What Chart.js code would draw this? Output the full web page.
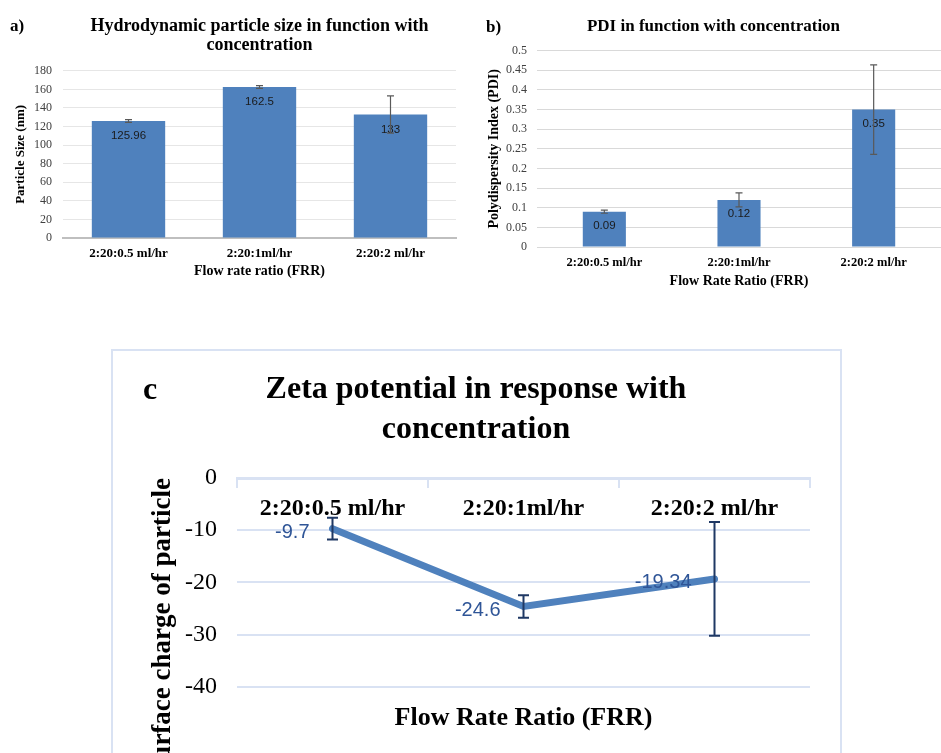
<!DOCTYPE html>
<html>
<head>
<meta charset="utf-8">
<script src="https://cdn.jsdelivr.net/npm/chart.js@4.4.1/dist/chart.umd.min.js"></script>
<style>
  body { margin: 0; width: 941px; height: 753px; overflow: hidden; background: #fff; position: relative; }
  canvas { position: absolute; }
  .tag { position: absolute; font-family: "Liberation Serif", serif; font-weight: bold; color: #000; line-height: 1; }
  #frameC { position: absolute; left: 111px; top: 349px; width: 727px; height: 440px; border: 2px solid #d9e2f3; }
</style>
</head>
<body>
<canvas id="chartA" width="470" height="290" style="left:0;top:0"></canvas>
<canvas id="chartB" width="471" height="290" style="left:470px;top:0"></canvas>
<div id="frameC"></div>
<canvas id="chartC" width="728" height="410" style="left:112px;top:350px"></canvas>
<div class="tag" style="left:10px;top:17px;font-size:17px">a)</div>
<div class="tag" style="left:486px;top:18px;font-size:17px">b)</div>
<div class="tag" style="left:143px;top:372px;font-size:32px">c</div>
<script>
// categories shared by all three panels
const frrLabels = ['2:20:0.5 ml/hr', '2:20:1ml/hr', '2:20:2 ml/hr'];

// a) hydrodynamic size (nm) with error
const sizeValues = [125.96, 162.5, 133];
const sizeErrors = [1.5, 1.5, 20];

// b) PDI with error
const pdiValues = [0.09, 0.12, 0.35];
const pdiErrors = [0.004, 0.018, 0.114];

// c) zeta potential with error
const zetaValues = [-9.7, -24.6, -19.34];
const zetaErrors = [2.1, 2.15, 10.9];

const serif = 'Liberation Serif';

// draws vertical error bars with caps on dataset 0
const errorBarPlugin = {
  id: 'errorBars',
  afterDatasetsDraw(chart, args, opts) {
    const meta = chart.getDatasetMeta(0);
    const values = chart.data.datasets[0].data;
    const yScale = chart.scales.y;
    const ctx = chart.ctx;
    ctx.save();
    ctx.strokeStyle = opts.color;
    ctx.lineWidth = opts.width;
    meta.data.forEach((el, i) => {
      const top = yScale.getPixelForValue(values[i] + opts.errors[i]);
      const bot = yScale.getPixelForValue(values[i] - opts.errors[i]);
      ctx.beginPath();
      ctx.moveTo(el.x, top);
      ctx.lineTo(el.x, bot);
      ctx.moveTo(el.x - opts.cap, top);
      ctx.lineTo(el.x + opts.cap, top);
      ctx.moveTo(el.x - opts.cap, bot);
      ctx.lineTo(el.x + opts.cap, bot);
      ctx.stroke();
    });
    ctx.restore();
  }
};

// writes the value next to each bar / point
const valueLabelPlugin = {
  id: 'valueLabels',
  afterDatasetsDraw(chart, args, opts) {
    const meta = chart.getDatasetMeta(0);
    const values = chart.data.datasets[0].data;
    const ctx = chart.ctx;
    ctx.save();
    ctx.fillStyle = opts.color;
    ctx.font = opts.font;
    ctx.textAlign = opts.align;
    ctx.textBaseline = 'middle';
    meta.data.forEach((el, i) => {
      ctx.fillText(String(values[i]), el.x + opts.dx, el.y + opts.dy);
    });
    ctx.restore();
  }
};

// ---- a) bar chart ----
new Chart(document.getElementById('chartA'), {
  type: 'bar',
  data: {
    labels: frrLabels,
    datasets: [{
      data: sizeValues,
      backgroundColor: '#4f81bd',
      barPercentage: 0.56,
      categoryPercentage: 1
    }]
  },
  plugins: [valueLabelPlugin, errorBarPlugin],
  options: {
    responsive: false,
    animation: false,
    layout: { padding: { left: 8, right: 14, top: 0, bottom: 10 } },
    plugins: {
      legend: { display: false },
      tooltip: { enabled: false },
      title: {
        display: true,
        fullSize: false,
        text: ['Hydrodynamic particle size in function with', 'concentration'],
        color: '#000',
        font: { family: serif, size: 18, weight: 'bold', lineHeight: 1.05 },
        padding: { top: 17, bottom: 16 }
      },
      errorBars: { errors: sizeErrors, color: '#595959', width: 1.2, cap: 3.5 },
      valueLabels: { color: '#1a1a1a', font: '11.5px "Liberation Sans"', align: 'center', dx: 0, dy: 15 }
    },
    scales: {
      x: {
        grid: { display: false, drawTicks: false },
        border: { color: '#bfbfbf', width: 2 },
        ticks: { color: '#000', font: { family: serif, size: 13, weight: 'bold' }, padding: 8 },
        title: { display: true, text: 'Flow rate ratio (FRR)', color: '#000', font: { family: serif, size: 14, weight: 'bold' }, padding: { top: 4, bottom: 0 } },
        afterFit(scale) { scale.height = 42; }
      },
      y: {
        min: 0,
        max: 180,
        ticks: { stepSize: 20, autoSkip: false, color: '#404040', font: { family: serif, size: 12 }, padding: 11 },
        grid: { color: '#e6e6e6', drawTicks: false },
        border: { display: false },
        title: { display: true, text: 'Particle Size (nm)', color: '#000', font: { family: serif, size: 13, weight: 'bold' }, padding: { top: 5, bottom: 0 } },
        afterFit(scale) { scale.width = 55; }
      }
    }
  }
});

// ---- b) bar chart ----
new Chart(document.getElementById('chartB'), {
  type: 'bar',
  data: {
    labels: frrLabels,
    datasets: [{
      data: pdiValues,
      backgroundColor: '#4f81bd',
      barPercentage: 0.32,
      categoryPercentage: 1
    }]
  },
  plugins: [valueLabelPlugin, errorBarPlugin],
  options: {
    responsive: false,
    animation: false,
    layout: { padding: { left: 16, right: 0, top: 0, bottom: 0 } },
    plugins: {
      legend: { display: false },
      tooltip: { enabled: false },
      title: {
        display: true,
        text: 'PDI in function with concentration',
        color: '#000',
        font: { family: serif, size: 17, weight: 'bold', lineHeight: 1.1 },
        padding: { top: 17, bottom: 15 }
      },
      errorBars: { errors: pdiErrors, color: '#595959', width: 1.2, cap: 3.5 },
      valueLabels: { color: '#1a1a1a', font: '11.5px "Liberation Sans"', align: 'center', dx: 0, dy: 14 }
    },
    scales: {
      x: {
        grid: { display: false, drawTicks: false },
        border: { color: '#d9d9d9', width: 1 },
        ticks: { color: '#000', font: { family: serif, size: 12.5, weight: 'bold' }, padding: 8 },
        title: { display: true, text: 'Flow Rate Ratio (FRR)', color: '#000', font: { family: serif, size: 14, weight: 'bold' }, padding: { top: 4, bottom: 0 } },
        afterFit(scale) { scale.height = 43; }
      },
      y: {
        min: 0,
        max: 0.5,
        ticks: {
          stepSize: 0.05,
          autoSkip: false,
          color: '#404040',
          font: { family: serif, size: 12 },
          padding: 10,
          callback: v => String(Number(v.toFixed(2)))
        },
        grid: { color: '#d9d9d9', drawTicks: false },
        border: { display: false },
        title: { display: true, text: 'Polydispersity Index (PDI)', color: '#000', font: { family: serif, size: 14, weight: 'bold' }, padding: { top: 0, bottom: 0 } },
        afterFit(scale) { scale.width = 51; }
      }
    }
  }
});

// ---- c) line chart ----
new Chart(document.getElementById('chartC'), {
  type: 'line',
  data: {
    labels: frrLabels,
    datasets: [{
      data: zetaValues,
      borderColor: '#4f81bd',
      backgroundColor: '#4f81bd',
      borderWidth: 7,
      borderCapStyle: 'round',
      pointRadius: 3,
      pointBorderWidth: 0,
      tension: 0
    }]
  },
  plugins: [valueLabelPlugin, errorBarPlugin],
  options: {
    responsive: false,
    animation: false,
    layout: { padding: { left: 30, right: 30, top: 0, bottom: 26 } },
    plugins: {
      legend: { display: false },
      tooltip: { enabled: false },
      title: {
        display: true,
        text: ['Zeta potential in response with', 'concentration'],
        color: '#000',
        font: { family: serif, size: 32, weight: 'bold', lineHeight: 1.25 },
        padding: { top: 20, bottom: 28 }
      },
      errorBars: { errors: zetaErrors, color: '#1f3864', width: 2, cap: 5.5 },
      valueLabels: { color: '#2f5597', font: '20px "Liberation Sans"', align: 'right', dx: -23, dy: 4 }
    },
    scales: {
      x: {
        position: { y: 0 },
        offset: true,
        grid: { display: true, drawOnChartArea: false, drawTicks: true, tickLength: 8, offset: true, color: '#d9e2f3', lineWidth: 2 },
        border: { color: '#d9e2f3', width: 3 },
        ticks: { color: '#000', font: { family: serif, size: 24, weight: 'bold' }, padding: 8 }
      },
      x2: {
        type: 'category',
        position: 'bottom',
        grid: { display: false },
        border: { display: false },
        ticks: { display: false },
        title: { display: true, text: 'Flow Rate Ratio (FRR)', color: '#000', font: { family: serif, size: 26, weight: 'bold' }, padding: { top: 8, bottom: 0 } }
      },
      y: {
        min: -40,
        max: 0,
        ticks: { stepSize: 10, color: '#000', font: { family: serif, size: 24 }, padding: 20 },
        grid: { color: '#d9e2f3', lineWidth: 2, drawTicks: false },
        border: { display: false },
        title: { display: true, align: 'end', text: 'Surface charge of particle', color: '#000', font: { family: serif, size: 27, weight: 'bold' }, padding: { top: 5, bottom: 0 } },
        afterFit(scale) { scale.width = 95; }
      }
    }
  }
});
</script>
</body>
</html>
